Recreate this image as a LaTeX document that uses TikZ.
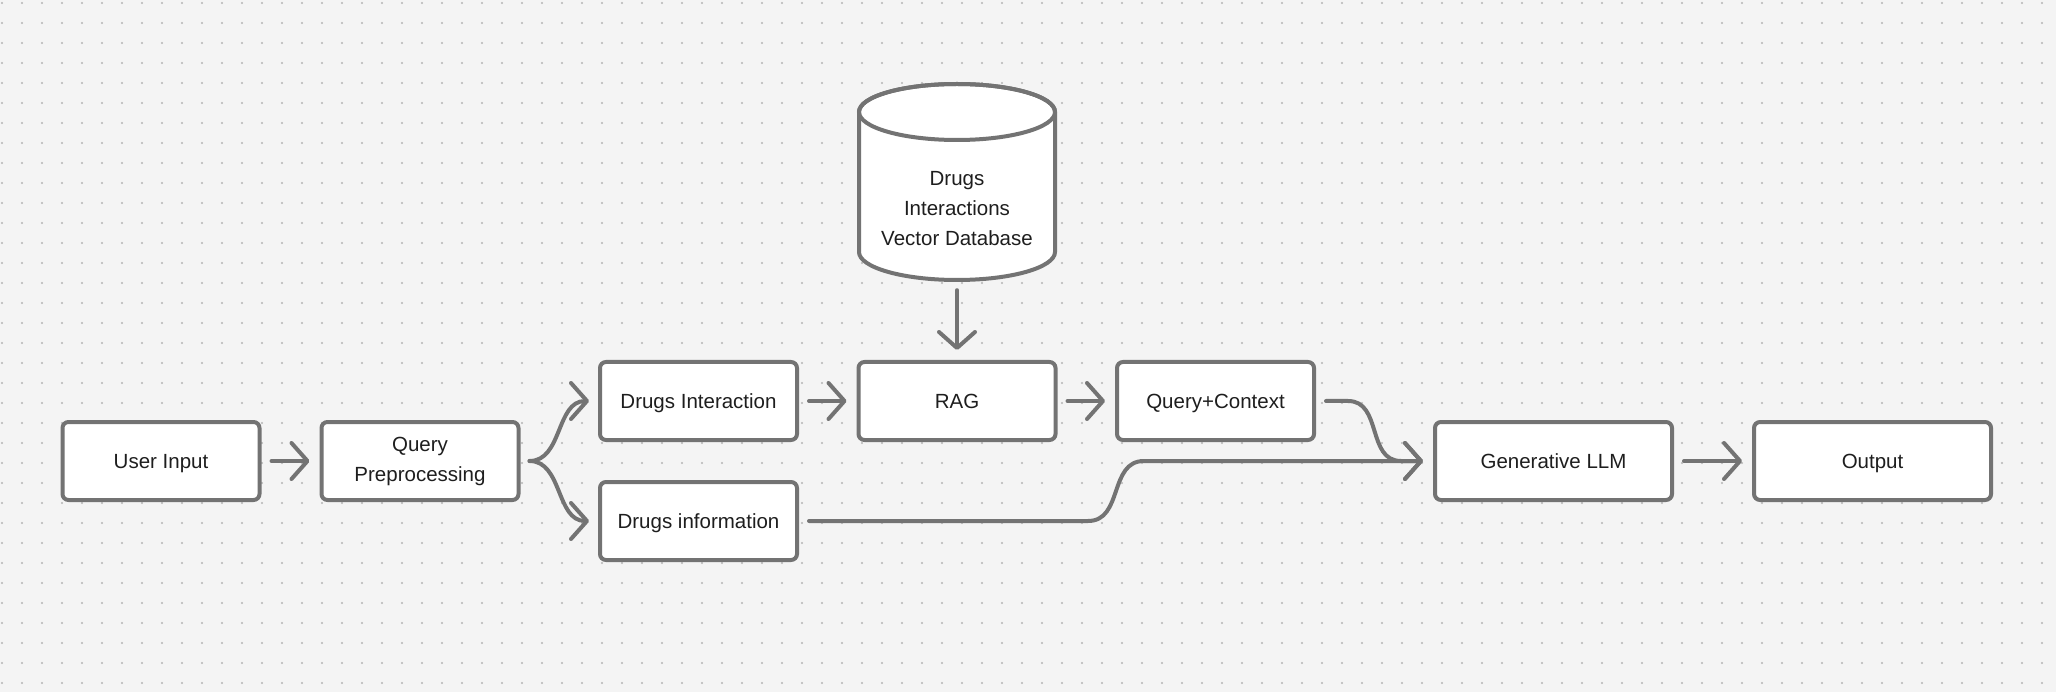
\documentclass[tikz,border=0pt]{standalone}
\usepackage{fontspec}
\setmainfont{Liberation Sans}
\usetikzlibrary{arrows.meta,calc}
\definecolor{bgc}{HTML}{F4F4F4}
\definecolor{dotc}{HTML}{B4B4B4}
\definecolor{strk}{HTML}{737373}
\definecolor{txt}{HTML}{1E1E1E}
\tikzset{
  boxnode/.style={draw=strk, line width=4pt, fill=white, rounded corners=6pt,
    minimum width=197pt, minimum height=78pt, inner sep=0pt, align=center,
    text=txt, font=\fontsize{20.5pt}{30pt}\selectfont},
  onebox/.style={boxnode, text depth=0pt},
  widebox/.style={onebox, minimum width=237pt},
  conn/.style={draw=strk, line width=4pt, line cap=round, line join=round,
    -{Straight Barb[length=16pt,width=36pt,round]}}
}
\begin{document}
\begin{tikzpicture}[x=1pt,y=-1pt]
\fill[bgc] (0,0) rectangle (2056,692);
\useasboundingbox (0,0) rectangle (2056,692);
\foreach \i in {0,...,102}{
  \foreach \j in {0,...,34}{
    \fill[dotc] (2+20*\i,3+20*\j) circle (1.1pt);
  }
}
% cylinder
\filldraw[fill=white, draw=strk, line width=4pt, line join=round]
  (859,112) -- (859,252) arc[start angle=180, end angle=0, x radius=98, y radius=28]
  -- (1055,112) arc[start angle=0, end angle=-180, x radius=98, y radius=28] -- cycle;
\draw[draw=strk, line width=4pt] (957,112) ellipse[x radius=98, y radius=28];
\node[minimum width=196pt, minimum height=196pt, inner sep=0pt] (db) at (957,182) {};
\node[text=txt, align=center, font=\fontsize{20.5pt}{30pt}\selectfont] (dbtext) at (957,209) {Drugs\\Interactions\\Vector Database};

\node[onebox] (ui) at (161,461) {User Input};
\node[boxnode] (qp) at (420,461) {Query\\Preprocessing};
\node[onebox] (di) at (698.5,401) {Drugs Interaction};
\node[onebox] (dinf) at (698.5,521) {Drugs information};
\node[onebox] (rag) at (957,401) {RAG};
\node[onebox] (qc) at (1215.5,401) {Query+Context};
\node[widebox] (llm) at (1553.5,461) {Generative LLM};
\node[widebox] (out) at (1872.5,461) {Output};

\draw[conn] ([xshift=10pt]ui.east) -- ([xshift=-10pt]qp.west);
\draw[conn] ([xshift=9pt]qp.east) to[out=0,in=180] ([xshift=-9pt]di.west);
\draw[conn] ([xshift=9pt]qp.east) to[out=0,in=180] ([xshift=-9pt]dinf.west);
\draw[conn] ([xshift=10pt]di.east) -- ([xshift=-10pt]rag.west);
\draw[conn] ([xshift=10pt]rag.east) -- ([xshift=-10pt]qc.west);
\draw[conn] ([yshift=-10pt]db.south) -- ([yshift=10pt]rag.north);
\draw[conn] ([xshift=10pt]qc.east) -- ++(22,0) to[out=0,in=180,looseness=1.1] ([xshift=-32pt]llm.west) -- ([xshift=-10pt]llm.west);
\draw[conn] ([xshift=10pt]dinf.east) -- (1088,521) to[out=0,in=180,looseness=1.1] (1144,461) -- ([xshift=-10pt]llm.west);
\draw[conn] ([xshift=10pt]llm.east) -- ([xshift=-10pt]out.west);
\end{tikzpicture}
\end{document}
